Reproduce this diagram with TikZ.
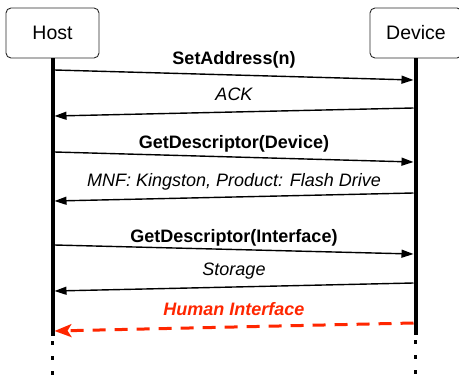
\documentclass[tikz,border=0pt]{standalone}
\usepackage{fontspec}
\setmainfont{Liberation Sans}
\usetikzlibrary{arrows.meta}
\definecolor{alertred}{RGB}{255,38,0}
\definecolor{boxline}{RGB}{40,40,40}
\begin{document}
\begin{tikzpicture}[x=1pt,y=-1pt,
  actor/.style={draw=boxline,line width=0.9pt,rounded corners=5pt,inner sep=0pt,
    font=\fontsize{19.5}{22}\selectfont},
  lifeline/.style={line width=4pt},
  tail/.style={line width=2.8pt,dash pattern=on 4pt off 11pt},
  msg/.style={line width=1.4pt,-{Triangle[length=12pt,width=8pt]}},
  reply/.style={msg},
  alert/.style={draw=alertred,line width=3pt,dash pattern=on 13pt off 9pt,
    -{Stealth[length=17pt,width=13pt,inset=4pt]},alertred},
  call/.style={anchor=base,font=\fontsize{18}{21}\selectfont\bfseries},
  answer/.style={anchor=base,font=\fontsize{18}{21}\selectfont\itshape},
  alertlabel/.style={anchor=base,text=alertred,
    font=\fontsize{18}{21}\selectfont\bfseries\itshape}]
\useasboundingbox (0,0) rectangle (459,381);
\clip (0,0) rectangle (459,381);

% participants
\node[actor,minimum width=93pt,minimum height=50pt] (host) at (52.5,33) {Host};
\node[actor,minimum width=92pt,minimum height=50pt] (device) at (416,33) {Device};

% lifelines and their dotted continuation
\coordinate (hend) at (52.5,336);
\coordinate (dend) at (415.5,335);
\coordinate (hlow) at (52.5,381);
\coordinate (dlow) at (415.5,381);
\draw[lifeline] (host.south -| hend) -- (hend);
\draw[lifeline] (dend |- device.south) -- (dend);
\draw[tail,dash phase=-5pt] (hend) -- (hlow);
\draw[tail,dash phase=-5pt] (dend) -- (dlow);

% message end points on the lifelines
\foreach \n/\y in {h1/70,h2/116,h3/152,h4/201,h5/245,h6/291,h7/331}
  \coordinate (\n) at (54.5,\y);
\foreach \n/\y in {d1/80,d2/108,d3/162,d4/193,d5/254,d6/283,d7/323}
  \coordinate (\n) at (413.5,\y);

% messages
\draw[msg] (h1) -- (d1);
\node[call] (m1) at (234,64) {SetAddress(n)};
\draw[reply] (d2) -- (h2);
\node[answer] (m2) at (234,100) {ACK};
\draw[msg] (h3) -- (d3);
\node[call] (m3) at (234,148) {GetDescriptor(Device)};
\draw[reply] (d4) -- (h4);
\node[answer] (m4) at (234,186) {MNF: Kingston, Product: Flash Drive};
\draw[msg] (h5) -- (d5);
\node[call] (m5) at (234,242) {GetDescriptor(Interface)};
\draw[reply] (d6) -- (h6);
\node[answer] (m6) at (234,275) {Storage};
\draw[alert] (d7) -- (h7);
\node[alertlabel] (m7) at (234,315) {Human Interface};
\end{tikzpicture}
\end{document}
